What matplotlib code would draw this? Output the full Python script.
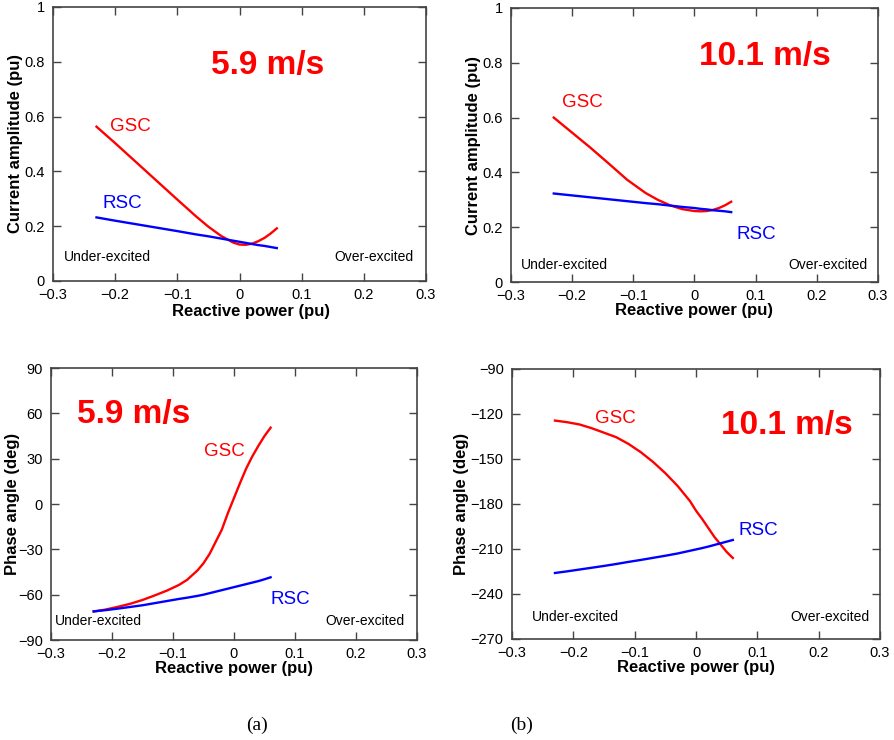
import numpy as np
import matplotlib
matplotlib.use("Agg")
from matplotlib import pyplot as plt

plt.rcParams['font.family'] = ['Liberation Sans', 'DejaVu Sans']

# reactive power (pu) and current amplitude (pu), 5.9 m/s
q_tl = [-0.23, -0.2, -0.15, -0.1, -0.07, -0.05, -0.03, -0.01, 0.0, 0.01, 0.02, 0.03, 0.04, 0.05, 0.06]
gsc_amp_59 = [0.563, 0.503, 0.400, 0.297, 0.236, 0.198, 0.165, 0.140, 0.133, 0.132, 0.136, 0.145, 0.157, 0.173, 0.192]
rsc_amp_59 = [0.232, 0.220, 0.201, 0.182, 0.170, 0.163, 0.155, 0.147, 0.143, 0.139, 0.135, 0.131, 0.128, 0.124, 0.120]

# reactive power (pu) and current amplitude (pu), 10.1 m/s
q_tr = [-0.23, -0.2, -0.17, -0.14, -0.11, -0.08, -0.06, -0.04, -0.02, 0.0, 0.01, 0.02, 0.03, 0.04, 0.05, 0.06]
gsc_amp_101 = [0.60, 0.545, 0.49, 0.432, 0.373, 0.325, 0.30, 0.28, 0.266, 0.259, 0.258, 0.259, 0.263, 0.27, 0.28, 0.293]
rsc_amp_101 = [0.323, 0.316, 0.309, 0.302, 0.295, 0.288, 0.284, 0.279, 0.274, 0.270, 0.267, 0.265, 0.262, 0.260, 0.258, 0.255]

# reactive power (pu) and phase angle (deg), 5.9 m/s
q_bl = [-0.23, -0.21, -0.19, -0.17, -0.15, -0.13, -0.11, -0.09, -0.077, -0.06, -0.05, -0.04, -0.03,
        -0.02, -0.01, 0.0, 0.01, 0.02, 0.03, 0.04, 0.05, 0.06]
gsc_ang_59 = [-71.2, -69.8, -68, -66, -63.5, -60.5, -57.3, -53.5, -50.2, -44, -39.2, -33, -25,
              -17, -6, 4, 14, 23.5, 31.5, 38.5, 45, 50.5]
rsc_ang_59 = [-71, -70.2, -69.2, -68.1, -67, -65.6, -64.2, -62.8, -62, -60.8, -60, -59, -58,
              -57, -56, -55, -54, -53, -52, -51, -49.8, -48.5]

# reactive power (pu) and phase angle (deg), 10.1 m/s
q_br = [-0.23, -0.21, -0.19, -0.17, -0.15, -0.13, -0.11, -0.09, -0.07, -0.05, -0.03, -0.01,
        0.0, 0.01, 0.02, 0.03, 0.04, 0.05, 0.06]
gsc_ang_101 = [-124.4, -125.5, -127, -129.5, -132.5, -135.5, -140, -145.5, -152, -159.5, -168, -178,
               -184.5, -190, -196, -202, -207, -212, -216]
rsc_ang_101 = [-226, -224.9, -223.7, -222.5, -221.3, -220, -218.6, -217.3, -215.9, -214.5, -213, -211.2,
               -210.3, -209.4, -208.4, -207.3, -206.2, -205.1, -204]

xticks = [-0.3, -0.2, -0.1, 0, 0.1, 0.2, 0.3]
xtick_labels = ['\u22120.3', '\u22120.2', '\u22120.1', '0', '0.1', '0.2', '0.3']
amp_ticks = [0, 0.2, 0.4, 0.6, 0.8, 1]
amp_labels = ['0', '0.2', '0.4', '0.6', '0.8', '1']
ang_ticks_59 = [-90, -60, -30, 0, 30, 60, 90]
ang_ticks_101 = [-270, -240, -210, -180, -150, -120, -90]

RED = '#ff0000'
BLUE = '#0000ff'

fig = plt.figure(figsize=(8.95, 7.4), dpi=100)
ax1 = fig.add_axes([0.0592, 0.6203, 0.4168, 0.3703])
ax2 = fig.add_axes([0.5709, 0.6189, 0.4101, 0.3703])
ax3 = fig.add_axes([0.0570, 0.1351, 0.4089, 0.3676])
ax4 = fig.add_axes([0.5721, 0.1365, 0.4112, 0.3649])


def style(ax, yticks, ylabels, ylim, ylabel):
    ax.set_xlim(-0.3, 0.3)
    ax.set_ylim(*ylim)
    ax.set_xticks(xticks)
    ax.set_xticklabels(xtick_labels)
    ax.set_yticks(yticks)
    ax.set_yticklabels(ylabels)
    ax.tick_params(direction='in', length=6, width=1, color='#444444',
                   labelsize=10.5, top=True, right=True)
    ax.tick_params(axis='x', pad=5)
    ax.tick_params(axis='y', pad=6)
    for s in ax.spines.values():
        s.set_color('#444444')
        s.set_linewidth(1.2)
    ax.set_xlabel('Reactive power (pu)', fontsize=12, fontweight='bold', labelpad=0)
    ax.set_ylabel(ylabel, fontsize=12, fontweight='bold', labelpad=1)


# (a) top: current amplitude 5.9 m/s
ax1.plot(q_tl, gsc_amp_59, color=RED, lw=1.7)
ax1.plot(q_tl, rsc_amp_59, color=BLUE, lw=1.7)
style(ax1, amp_ticks, amp_labels, (0, 1), 'Current amplitude (pu)')
ax1.xaxis.set_label_coords(0.53, -0.085)
ax1.text(0.045, 0.787, '5.9 m/s', color=RED, fontsize=24, fontweight='bold', ha='center', va='center')
ax1.text(-0.175, 0.565, 'GSC', color=RED, fontsize=13.5, ha='center', va='center')
ax1.text(-0.189, 0.281, 'RSC', color=BLUE, fontsize=13.5, ha='center', va='center')
ax1.text(-0.282, 0.086, 'Under-excited', fontsize=10, ha='left', va='center')
ax1.text(0.28, 0.086, 'Over-excited', fontsize=10, ha='right', va='center')

# (b) top: current amplitude 10.1 m/s
ax2.plot(q_tr, gsc_amp_101, color=RED, lw=1.7)
ax2.plot(q_tr, rsc_amp_101, color=BLUE, lw=1.7)
style(ax2, amp_ticks, amp_labels, (0, 1), 'Current amplitude (pu)')
ax2.text(0.115, 0.823, '10.1 m/s', color=RED, fontsize=24, fontweight='bold', ha='center', va='center')
ax2.text(-0.183, 0.655, 'GSC', color=RED, fontsize=13.5, ha='center', va='center')
ax2.text(0.101, 0.172, 'RSC', color=BLUE, fontsize=13.5, ha='center', va='center')
ax2.text(-0.284, 0.063, 'Under-excited', fontsize=10, ha='left', va='center')
ax2.text(0.283, 0.063, 'Over-excited', fontsize=10, ha='right', va='center')

# (a) bottom: phase angle 5.9 m/s
ax3.plot(q_bl, gsc_ang_59, color=RED, lw=1.7)
ax3.plot(q_bl, rsc_ang_59, color=BLUE, lw=1.7)
style(ax3, ang_ticks_59, [str(v).replace('-', '\u2212') for v in ang_ticks_59], (-90, 90), 'Phase angle (deg)')
ax3.yaxis.set_label_coords(-0.085, 0.5)
ax3.text(-0.164, 59, '5.9 m/s', color=RED, fontsize=24, fontweight='bold', ha='center', va='center')
ax3.text(-0.016, 35, 'GSC', color=RED, fontsize=13.5, ha='center', va='center')
ax3.text(0.092, -63, 'RSC', color=BLUE, fontsize=13.5, ha='center', va='center')
ax3.text(-0.294, -77.5, 'Under-excited', fontsize=10, ha='left', va='center')
ax3.text(0.279, -77.5, 'Over-excited', fontsize=10, ha='right', va='center')

# (b) bottom: phase angle 10.1 m/s
ax4.plot(q_br, gsc_ang_101, color=RED, lw=1.7)
ax4.plot(q_br, rsc_ang_101, color=BLUE, lw=1.7)
style(ax4, ang_ticks_101, [str(v).replace('-', '\u2212') for v in ang_ticks_101], (-270, -90), 'Phase angle (deg)')
ax4.text(0.148, -128, '10.1 m/s', color=RED, fontsize=24, fontweight='bold', ha='center', va='center')
ax4.text(-0.131, -123, 'GSC', color=RED, fontsize=13.5, ha='center', va='center')
ax4.text(0.102, -198, 'RSC', color=BLUE, fontsize=13.5, ha='center', va='center')
ax4.text(-0.267, -255.5, 'Under-excited', fontsize=10, ha='left', va='center')
ax4.text(0.283, -255.5, 'Over-excited', fontsize=10, ha='right', va='center')

fig.text(257 / 895, 1 - 725 / 740, '(a)', family=['Liberation Serif'], fontsize=14, ha='center', va='center')
fig.text(522 / 895, 1 - 725 / 740, '(b)', family=['Liberation Serif'], fontsize=14, ha='center', va='center')

fig.savefig('out.png', dpi=100)
